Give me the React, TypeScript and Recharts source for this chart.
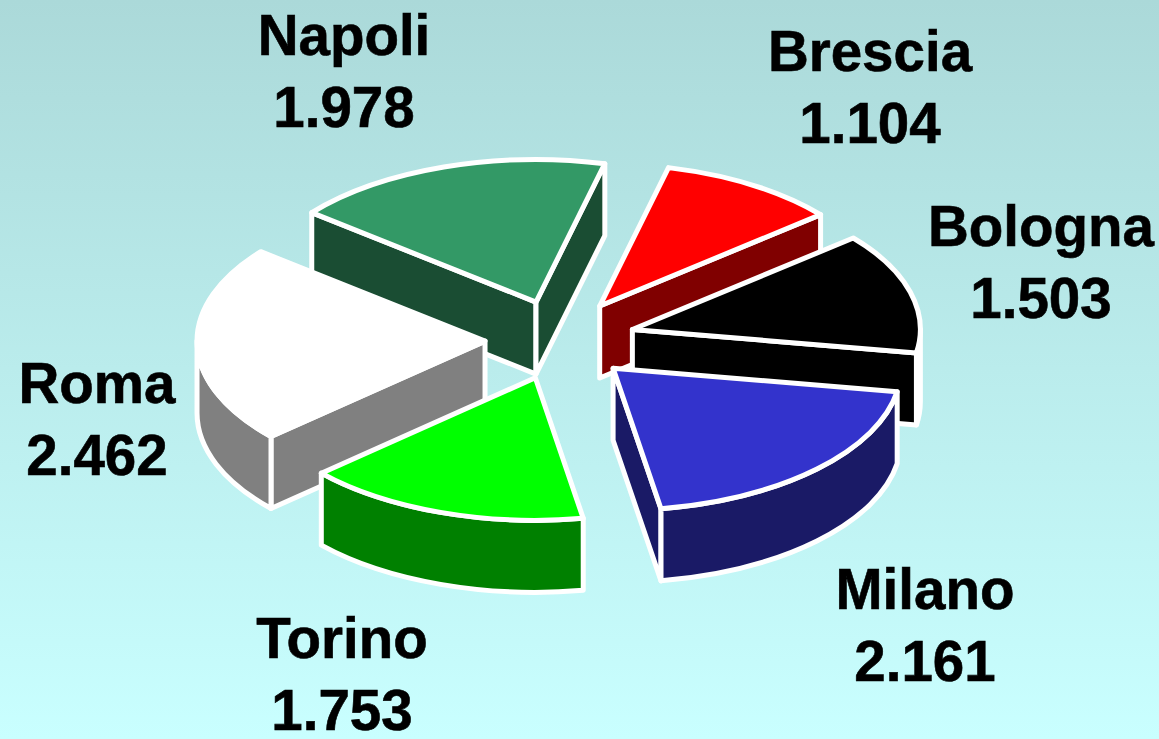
import { PieChart, Pie } from "recharts";

const categories = ["Napoli", "Brescia", "Bologna", "Milano", "Torino", "Roma"];
const values = [1978, 1104, 1503, 2161, 1753, 2462];
const valueLabels = ["1.978", "1.104", "1.503", "2.161", "1.753", "2.462"];

const topColors = ["#339966", "#ff0000", "#000000", "#3333cc", "#00ff00", "#ffffff"];
const sideColors = ["#1a4d33", "#800000", "#000000", "#1a1a66", "#008000", "#808080"];

// centre of each two line label
const labelAnchors: Record<string, [number, number]> = {
  Roma: [97, 388],
  Napoli: [344, 40],
  Brescia: [870, 56],
  Bologna: [1041, 231],
  Milano: [925, 594],
  Torino: [342, 643],
};

const data = categories.map((name, i) => ({ name, value: values[i] }));

const TILT = 0.495;
const EXPLODE_X = 75;
const EXPLODE_Y = 40;
const DEPTH = 72;
// Torino sits in front of Roma, so it goes in a second pass
const FRONT_SLICE = "Torino";

const Slice3D = (props: any) => {
  const { cx, cy, outerRadius, startAngle, endAngle, name } = props;
  const i = categories.indexOf(name);
  const a = outerRadius;
  const b = outerRadius * TILT;

  // clockwise angle from 12 o'clock
  const thetaStart = 90 - startAngle;
  const thetaEnd = 90 - endAngle;
  const mid = (thetaStart + thetaEnd) / 2;
  const ox = cx + EXPLODE_X * Math.sin((mid * Math.PI) / 180);
  const oy = cy - EXPLODE_Y * Math.cos((mid * Math.PI) / 180);

  const pt = (theta: number) => ({
    x: ox + a * Math.sin((theta * Math.PI) / 180),
    y: oy - b * Math.cos((theta * Math.PI) / 180),
  });

  const p1 = pt(thetaStart);
  const p2 = pt(thetaEnd);
  const side = sideColors[i];
  const style = { stroke: "#fff", strokeWidth: 5, strokeLinejoin: "round" as const };

  const wall = (u: { x: number; y: number }, v: { x: number; y: number }) =>
    `M${u.x},${u.y}L${v.x},${v.y}L${v.x},${v.y + DEPTH}L${u.x},${u.y + DEPTH}Z`;

  const arcs: string[] = [];
  [90, 450].forEach((lo) => {
    const from = Math.max(thetaStart, lo);
    const to = Math.min(thetaEnd, lo + 180);
    if (to > from) {
      const f = pt(from);
      const t = pt(to);
      arcs.push(
        `M${f.x},${f.y}A${a},${b} 0 0 1 ${t.x},${t.y}L${t.x},${t.y + DEPTH}A${a},${b} 0 0 0 ${f.x},${f.y + DEPTH}Z`
      );
    }
  });

  return (
    <g>
      {p1.x < ox && <path d={wall({ x: ox, y: oy }, p1)} fill={side} {...style} />}
      {p2.x > ox && <path d={wall(p2, { x: ox, y: oy })} fill={side} {...style} />}
      {arcs.map((d) => (
        <path key={d} d={d} fill={side} {...style} />
      ))}
      <path
        d={`M${ox},${oy}L${p1.x},${p1.y}A${a},${b} 0 0 1 ${p2.x},${p2.y}Z`}
        fill={topColors[i]}
        {...style}
      />
    </g>
  );
};

const backShape = (props: any) => (props.name === FRONT_SLICE ? <g /> : <Slice3D {...props} />);
const frontShape = (props: any) => (props.name === FRONT_SLICE ? <Slice3D {...props} /> : <g />);

const renderLabel = (props: any) => {
  const [x, y] = labelAnchors[props.name];
  const idx = categories.indexOf(props.name);
  return (
    <text
      key={props.name}
      x={x}
      y={y}
      textAnchor="middle"
      fontFamily="'Liberation Sans', Arial, sans-serif"
      fontWeight="bold"
      fontSize={56.5}
      fill="#000"
      stroke="#000"
      strokeWidth={0.6}
      dominantBaseline="middle"
    >
      <tspan x={x} y={y}>
        {props.name}
      </tspan>
      <tspan x={x} y={y + 72}>
        {valueLabels[idx]}
      </tspan>
    </text>
  );
};

const pieProps = {
  data,
  dataKey: "value",
  nameKey: "name",
  cx: 560,
  cy: 340,
  innerRadius: 0,
  outerRadius: 288,
  startAngle: -218.86,
  endAngle: -578.86,
  paddingAngle: 0,
  isAnimationActive: false,
};

export default function App() {
  return (
    <div
      style={{
        position: "absolute",
        left: 0,
        top: 0,
        width: 1159,
        height: 739,
        overflow: "hidden",
        background: "linear-gradient(to bottom, #abd9d9 0%, #c9ffff 100%)",
      }}
    >
      <PieChart width={1159} height={739} margin={{ top: 0, right: 0, bottom: 0, left: 0 }}>
        <Pie {...pieProps} shape={backShape} label={renderLabel} labelLine={false} />
        <Pie {...pieProps} shape={frontShape} label={false} labelLine={false} />
      </PieChart>
    </div>
  );
}
